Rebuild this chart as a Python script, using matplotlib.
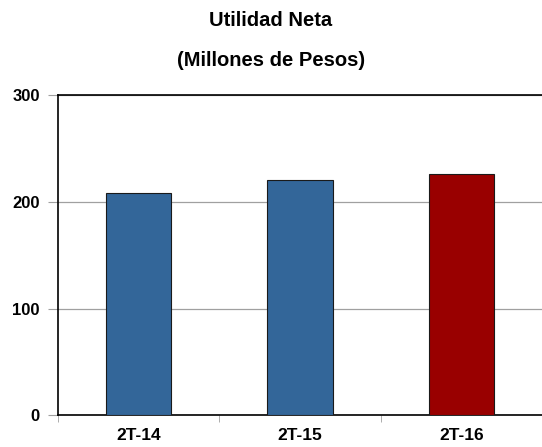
import matplotlib
matplotlib.use("Agg")
import matplotlib.pyplot as plt

periods = ["2T-14", "2T-15", "2T-16"]
utilidad = [208.7, 220.6, 226.6]
colors = ["#336699", "#336699", "#990000"]

plt.rcParams["font.family"] = ["Liberation Sans", "DejaVu Sans"]

fig = plt.figure(figsize=(5.42, 4.47), dpi=100)
ax = fig.add_axes([58 / 542, 1 - 415.3 / 447, 1 - 58 / 542, (415.3 - 95.3) / 447])

x = list(range(len(periods)))
ax.bar(x, utilidad, width=0.405, color=colors, edgecolor="#1a1a1a", linewidth=0.8, zorder=3)

ax.set_xlim(-0.5, 2.475)
ax.set_ylim(0, 300)
ax.set_yticks([0, 100, 200, 300])
ax.set_yticklabels(["0", "100", "200", "300"], fontsize=12, fontweight="bold")
ax.yaxis.grid(True, color="#a0a0a0", linewidth=0.9, zorder=0)

ax.set_xticks(x)
ax.set_xticklabels(periods, fontsize=12.5, fontweight="bold")
ax.tick_params(axis="x", length=0, pad=9)
ax.set_xticks([-0.5, 0.5, 1.5, 2.5], minor=True)
ax.tick_params(axis="x", which="minor", length=5, color="#a0a0a0", direction="out")
ax.tick_params(axis="y", length=7, color="#a0a0a0", pad=6)

ax.spines["right"].set_visible(False)
for s in ["left", "top", "bottom"]:
    ax.spines[s].set_color("black")
    ax.spines[s].set_linewidth(1.2)

fig.text(0.5, 1 - 21 / 447, "Utilidad Neta", ha="center", va="center", fontsize=14.5, fontweight="bold")
fig.text(0.5, 1 - 60 / 447, "(Millones de Pesos)", ha="center", va="center", fontsize=14.5, fontweight="bold")

fig.savefig("out.png", dpi=100)
